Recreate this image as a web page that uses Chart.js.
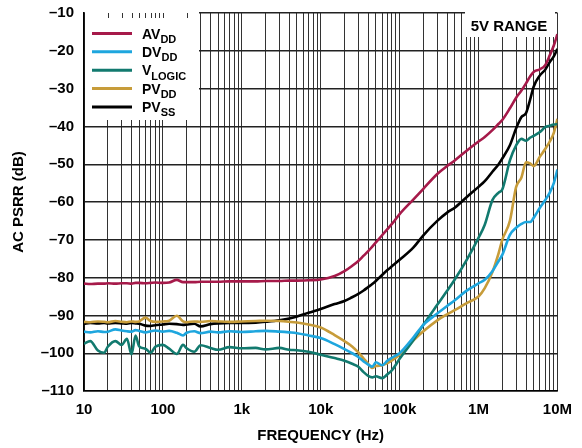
<!DOCTYPE html>
<html>
<head>
<meta charset="utf-8">
<title>AC PSRR vs Frequency</title>
<script src="https://cdn.jsdelivr.net/npm/chart.js@4.4.1/dist/chart.umd.min.js"></script>
<style>
  html, body { margin: 0; padding: 0; background: #fff; }
  #wrap { width: 582px; height: 448px; }
</style>
</head>
<body>
<div id="wrap"><canvas id="psrrChart" width="582" height="448"></canvas></div>
<script>
// ---------- data ----------
const freq = [10, 12, 15, 18, 20, 25, 30, 35, 40, 45,
  50, 60, 70, 80, 100, 120, 150, 180, 200, 250,
  300, 400, 500, 700, 1e3, 1.5e3, 2e3, 3e3, 4e3, 5e3,
  7e3, 1e4, 1.5e4, 2e4, 2.5e4, 3e4, 3.5e4, 4e4, 4.5e4, 5e4,
  6e4, 7e4, 8e4, 1e5, 1.5e5, 2e5, 3e5, 4e5, 5e5, 7e5,
  1e6, 1.2e6, 1.5e6, 1.8e6, 2e6, 2.5e6, 3e6, 3.5e6, 4e6, 4.5e6,
  5e6, 6e6, 7e6, 8e6, 9e6, 1e7];

const avdd = [-81.6, -81.7, -81.6, -81.6, -81.5, -81.6, -81.5, -81.5, -81.6, -81.4,
  -81.4, -81.5, -81.4, -81.3, -81.4, -81.3, -80.6, -81.2, -81.2, -81.2,
  -81.1, -81.1, -81.1, -81.0, -81.0, -81.0, -80.9, -80.9, -80.8, -80.8,
  -80.7, -80.5, -79.6, -78.3, -76.9, -75.6, -74.2, -73.0, -71.8, -70.7,
  -68.8, -67.2, -65.8, -63.2, -59.3, -56.5, -52.6, -50.5, -49.0, -46.5,
  -44.0, -42.8, -41.0, -39.3, -38.3, -35.2, -32.4, -30.5, -28.6, -26.8,
  -25.6, -24.9, -23.8, -21.2, -18.6, -15.6];

const dvdd = [-94.3, -94.5, -94.2, -94.4, -94.3, -93.7, -94.0, -94.2, -94.3, -93.9,
  -94.1, -94.5, -94.2, -94.0, -94.3, -94.1, -94.6, -95.3, -94.6, -94.2,
  -94.7, -94.3, -94.5, -94.2, -94.4, -94.2, -94.1, -94.3, -94.5, -94.7,
  -95.3, -96.0, -97.6, -98.9, -100.0, -101.0, -102.2, -103.0, -103.6, -102.4,
  -103.2, -102.0, -101.2, -100.0, -95.8, -92.5, -89.5, -87.5, -86.0, -83.5,
  -81.5, -80.6, -78.3, -75.6, -74.0, -68.7, -66.8, -65.8, -65.3, -65.3,
  -64.2, -61.5, -59.5, -57.5, -55.0, -51.4];

const vlogic = [-97.5, -96.8, -99.3, -99.9, -98.3, -96.8, -97.8, -96.2, -100.3, -95.3,
  -98.2, -98.8, -99.9, -98.3, -97.8, -98.8, -100.2, -97.8, -98.7, -99.6,
  -97.9, -98.6, -99.1, -98.4, -98.7, -98.6, -99.0, -98.6, -99.1, -99.2,
  -99.6, -100.4, -101.3, -102.0, -102.8, -103.6, -105.0, -106.0, -106.4, -106.1,
  -106.6, -105.6, -104.5, -101.5, -96.5, -92.5, -87.2, -83.5, -80.5, -75.5,
  -69.5, -66.0, -59.5, -57.5, -56.7, -49.0, -45.0, -43.3, -43.8, -43.0,
  -42.5, -41.5, -40.2, -39.8, -39.5, -39.4];

const pvdd = [-91.7, -91.8, -91.6, -91.7, -91.8, -91.5, -91.7, -91.8, -91.6, -91.7,
  -91.6, -90.6, -91.5, -91.7, -91.6, -91.4, -90.1, -91.6, -91.8, -91.6,
  -91.7, -91.5, -91.6, -91.7, -91.6, -91.5, -91.4, -91.5, -91.7, -91.9,
  -92.4, -93.2, -95.2, -96.8, -98.2, -99.8, -101.4, -102.8, -103.9, -103.4,
  -103.2, -102.6, -101.9, -100.4, -96.6, -94.2, -91.3, -89.7, -88.6, -86.8,
  -85.0, -82.8, -78.5, -73.5, -70.0, -65.0, -56.0, -53.5, -49.5, -49.8,
  -50.5, -48.0, -46.0, -44.0, -41.7, -38.0];

const pvss = [-92.2, -92.0, -92.1, -92.0, -92.1, -92.0, -92.1, -92.2, -92.0, -92.1,
  -92.2, -92.7, -92.8, -92.6, -92.4, -92.2, -92.3, -92.5, -92.4, -92.2,
  -92.9, -92.3, -92.1, -92.0, -92.0, -91.9, -91.7, -91.3, -90.8, -90.3,
  -89.3, -88.3, -87.0, -86.2, -85.2, -84.3, -83.4, -82.5, -81.7, -80.9,
  -79.3, -78.0, -77.0, -75.3, -72.0, -68.8, -65.0, -62.8, -61.5, -58.8,
  -56.0, -54.5, -52.0, -50.0, -48.5, -45.0, -40.5, -37.5, -36.5, -33.0,
  -29.5, -26.5, -25.0, -23.0, -21.5, -19.5];

const seriesNames = ["AV", "DV", "V", "PV", "PV"];
const seriesSubs = ["DD", "DD", "LOGIC", "DD", "SS"];
const seriesColors = ["#a61a4a", "#1ea6de", "#127a6f", "#c79c3a", "#000000"];

const xMajor = [10, 100, 1e3, 1e4, 1e5, 1e6, 1e7];
const xMajorLabels = ["10", "100", "1k", "10k", "100k", "1M", "10M"];
const yTicks = [-110, -100, -90, -80, -70, -60, -50, -40, -30, -20, -10];

// ---------- helpers ----------
const FONT = '"Liberation Sans", Arial, Helvetica, sans-serif';

function toPoints(vals) {
  return freq.map((f, i) => ({ x: f, y: vals[i] }));
}

// 1..9 x 10^n gridlines, like log paper
function logGridValues() {
  const out = [];
  for (let e = 1; e < 7; e++) {
    for (let m = 1; m < 10; m++) out.push(Number((m * Math.pow(10, e)).toPrecision(3)));
  }
  out.push(1e7);
  return out;
}

// white boxes for the legend and the "5V RANGE" note, plus the legend itself
const overlay = {
  id: "overlay",
  beforeDatasetsDraw(chart) {
    const { ctx, chartArea: a, scales: { x } } = chart;
    ctx.save();
    ctx.fillStyle = "#fff";
    ctx.fillRect(a.left + 1, a.top - 1, 198 - a.left, 121 - a.top);
    ctx.fillRect(465, a.top - 1, 90, 38 - a.top);

    // little tick marks left on the top edge under the legend
    ctx.strokeStyle = "#333";
    ctx.lineWidth = 1;
    for (const t of x.ticks) {
      const px = Math.round(x.getPixelForValue(t.value)) + 0.5;
      if (px > a.left + 2 && px < 198) {
        ctx.beginPath();
        ctx.moveTo(px, a.top);
        ctx.lineTo(px, a.top + 5);
        ctx.stroke();
      }
    }

    // "5V RANGE"
    ctx.fillStyle = "#000";
    ctx.font = "bold 15px " + FONT;
    ctx.textAlign = "center";
    ctx.textBaseline = "alphabetic";
    ctx.fillText("5V RANGE", 509, 31);

    // legend rows
    ctx.textAlign = "left";
    for (let i = 0; i < seriesNames.length; i++) {
      const yLine = 33.5 + i * 18.35;
      ctx.strokeStyle = seriesColors[i];
      ctx.lineWidth = 3;
      ctx.beginPath();
      ctx.moveTo(92, yLine);
      ctx.lineTo(132, yLine);
      ctx.stroke();

      const base = 38.5 + i * 18.35;
      ctx.font = "bold 14px " + FONT;
      ctx.fillText(seriesNames[i], 142, base);
      const w = ctx.measureText(seriesNames[i]).width;
      ctx.font = "bold 11px " + FONT;
      ctx.fillText(seriesSubs[i], 142 + w, base + 4.5);
    }
    ctx.restore();
  }
};

// ---------- chart ----------
const lineStyle = { borderWidth: 2.6, pointRadius: 0, fill: false, cubicInterpolationMode: "monotone" };
const datasets = [avdd, dvdd, vlogic, pvdd, pvss].map((vals, i) => ({
  label: seriesNames[i] + seriesSubs[i],
  data: toPoints(vals),
  borderColor: seriesColors[i],
  ...lineStyle
}));

const tickFont = { family: FONT, size: 15, weight: "bold" };

new Chart(document.getElementById("psrrChart"), {
  type: "line",
  data: { datasets },
  plugins: [overlay],
  options: {
    responsive: false,
    animation: false,
    layout: { padding: { top: 13, right: 24, left: 0, bottom: 0 } },
    plugins: { legend: { display: false }, tooltip: { enabled: false } },
    scales: {
      x: {
        type: "logarithmic",
        min: 10,
        max: 1e7,
        afterBuildTicks: s => { s.ticks = logGridValues().map(v => ({ value: v })); },
        afterFit: s => { s.height = 57; },
        grid: { color: "#333", lineWidth: 1, drawTicks: false },
        border: { color: "#000", width: 1.5 },
        ticks: {
          autoSkip: false,
          maxRotation: 0,
          padding: 10,
          color: "#000",
          font: tickFont,
          callback: v => {
            const k = xMajor.indexOf(v);
            return k >= 0 ? xMajorLabels[k] : "";
          }
        },
        title: { display: true, text: "FREQUENCY (Hz)", color: "#000", font: tickFont, padding: { top: 0, bottom: 3 } }
      },
      y: {
        min: -110,
        max: -10,
        afterBuildTicks: s => { s.ticks = yTicks.map(v => ({ value: v })); },
        afterFit: s => { s.width = 84; s.paddingTop = 0; s.paddingBottom = 0; },
        grid: { color: "#222", lineWidth: 1.4, drawTicks: false },
        border: { color: "#000", width: 1.5 },
        ticks: { padding: 10, color: "#000", font: tickFont, callback: v => "\u2013" + Math.abs(v) },
        title: { display: true, text: "AC PSRR (dB)", color: "#000", font: tickFont, padding: { top: 10, bottom: 0 } }
      }
    }
  }
});
</script>
</body>
</html>
